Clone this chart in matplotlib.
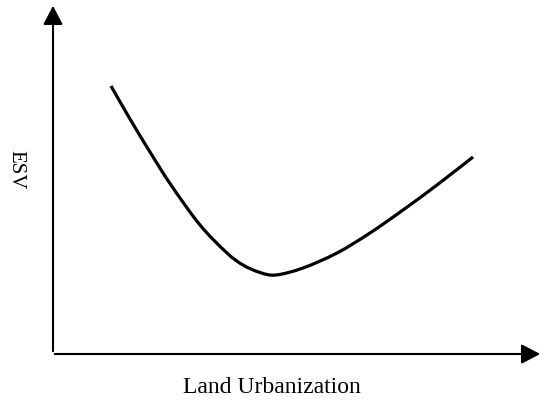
import matplotlib.pyplot as plt
from matplotlib.path import Path
from matplotlib.patches import PathPatch
import numpy as np

# curve (pixel coords, y down)
curve_x = [111, 130, 150, 171, 200, 227, 243, 260, 276, 303, 337, 370, 403, 437, 473]
curve_y = [86, 119, 152, 185, 225, 253, 265, 272.5, 275, 268, 253, 233, 210, 185, 157]

x_label = 'Land Urbanization'
y_label = 'ESV'

plt.rcParams['font.family'] = ['Liberation Serif', 'DejaVu Serif']

fig = plt.figure(figsize=(5.5, 4.01), dpi=100)
ax = fig.add_axes([0, 0, 1, 1])
ax.set_xlim(0, 550)
ax.set_ylim(401, 0)
ax.axis('off')

# axes with arrow heads
style = '-|>,head_length=1.15,head_width=0.6'
ax.annotate('', xy=(53, 3), xytext=(53, 354),
            arrowprops=dict(arrowstyle=style, color='black', lw=1.5))
ax.annotate('', xy=(543, 354), xytext=(52, 354),
            arrowprops=dict(arrowstyle=style, color='black', lw=1.5))

# smooth curve through the read points (Catmull-Rom as cubic Bezier)
pts = np.column_stack([curve_x, curve_y]).astype(float)
verts = [pts[0]]
codes = [Path.MOVETO]
for i in range(len(pts) - 1):
    p0 = pts[i - 1] if i > 0 else pts[i]
    p1, p2 = pts[i], pts[i + 1]
    p3 = pts[i + 2] if i + 2 < len(pts) else pts[i + 1]
    verts += [p1 + (p2 - p0) / 6, p2 - (p3 - p1) / 6, p2]
    codes += [Path.CURVE4] * 3
ax.add_patch(PathPatch(Path(verts, codes), fill=False, edgecolor='black',
                       lw=2.3, capstyle='butt'))

ax.text(272, 393, x_label, ha='center', va='baseline', fontsize=17)
ax.text(16, 170, y_label, ha='center', va='center', fontsize=15, rotation=270)

fig.savefig('out.png', dpi=100)
